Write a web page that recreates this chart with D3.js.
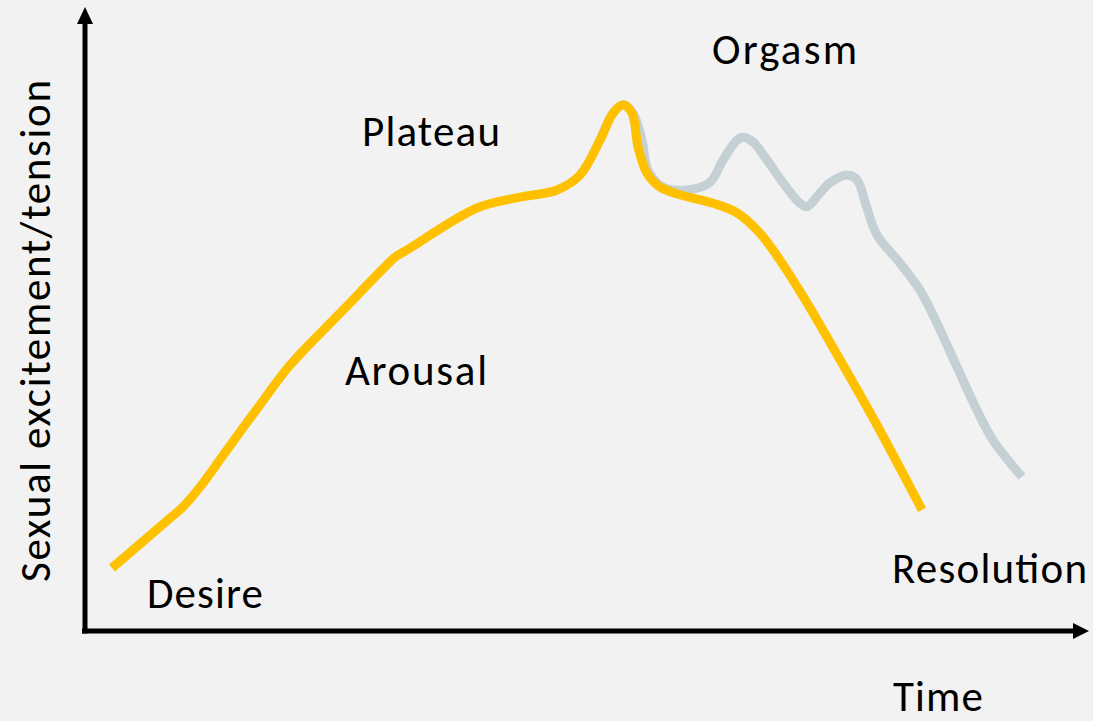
<!DOCTYPE html>
<html>
<head>
<meta charset="utf-8">
<script src="https://cdn.jsdelivr.net/npm/d3@7"></script>
<style>
  html, body { margin: 0; padding: 0; background: #f2f2f2; }
  svg { display: block; }
</style>
</head>
<body>
<svg id="chart" width="1093" height="721"></svg>
<script>
// ---- Data (time in arbitrary units 0-100, excitement 0-100) ----
const yellowTime = [2.7, 8.5, 9.8, 11.5, 14.2, 17.5, 20.5, 25.7, 30.0, 31.0, 32.2, 39.2, 43.5, 47.2, 49.5, 51.5, 52.8, 53.8, 54.7, 55.3, 56.2, 57.5, 59.5, 62.8, 65.2, 67.5, 69.5, 72.2, 75.5, 79.3, 82.5, 83.7];
const yellowLevel = [10.5, 18.8, 20.7, 24.0, 30.2, 37.7, 44.3, 53.3, 60.7, 62.3, 63.5, 70.5, 72.3, 73.5, 76.0, 81.8, 86.3, 87.7, 86.3, 80.7, 76.3, 74.0, 72.7, 71.3, 69.7, 66.3, 61.8, 54.7, 45.2, 34.0, 24.0, 20.2];

const grayTime = [51.5, 52.8, 53.8, 54.8, 55.7, 56.3, 57.8, 60.2, 62.5, 63.8, 65.2, 65.8, 66.8, 68.2, 69.8, 71.5, 72.2, 73.5, 74.5, 76.2, 77.2, 78.1, 79.2, 81.5, 83.5, 85.2, 87.2, 89.2, 90.8, 93.7];
const grayLevel = [81.8, 86.3, 87.7, 86.3, 81.8, 76.8, 74.0, 73.5, 74.8, 78.5, 81.8, 82.3, 81.5, 78.5, 74.7, 71.3, 70.7, 73.0, 74.7, 76.0, 75.2, 71.0, 66.0, 61.3, 56.8, 51.3, 44.0, 36.8, 31.8, 25.7];

const phaseLabels = ["Desire", "Arousal", "Plateau", "Orgasm", "Resolution"];
const xAxisTitle = "Time";
const yAxisTitle = "Sexual excitement/tension";

// ---- Layout ----
const svg = d3.select("#chart");
const W = 1093, H = 721;
const x = d3.scaleLinear().domain([0, 100]).range([85, 1085]);
const y = d3.scaleLinear().domain([0, 100]).range([631, 31]);

svg.append("rect").attr("width", W).attr("height", H).attr("fill", "#f2f2f2");

const line = d3.line()
  .x(d => x(d[0]))
  .y(d => y(d[1]))
  .curve(d3.curveCatmullRom.alpha(0.5));

const grayPts = grayTime.map((t, i) => [t, grayLevel[i]]);
const yellowPts = yellowTime.map((t, i) => [t, yellowLevel[i]]);

svg.append("path")
  .attr("d", line(grayPts))
  .attr("fill", "none")
  .attr("stroke", "#c5d0d4")
  .attr("stroke-width", 9)
  .attr("stroke-linejoin", "round");

svg.append("path")
  .attr("d", line(yellowPts))
  .attr("fill", "none")
  .attr("stroke", "#ffc000")
  .attr("stroke-width", 9)
  .attr("stroke-linejoin", "round");

// ---- Axes (arrows) ----
const x0 = x(0), y0 = y(0);
svg.append("line")
  .attr("x1", x0).attr("y1", y0 + 2.5)
  .attr("x2", x0).attr("y2", 22)
  .attr("stroke", "#000").attr("stroke-width", 5);
svg.append("path")
  .attr("d", `M${x0},7 L${x0 - 8},24 L${x0 + 8},24 Z`)
  .attr("fill", "#000");

svg.append("line")
  .attr("x1", x0 - 3).attr("y1", y0)
  .attr("x2", 1075).attr("y2", y0)
  .attr("stroke", "#000").attr("stroke-width", 5);
svg.append("path")
  .attr("d", `M1089,${y0} L1073,${y0 - 8} L1073,${y0 + 8} Z`)
  .attr("fill", "#000");

// ---- Labels ----
const font = "Carlito, Calibri, Lato, 'Open Sans', sans-serif";
const labelAnchors = [[6.2, 3.8], [26.0, 41.0], [27.7, 80.8], [62.7, 94.5], [80.7, 8.0]];
const labelWidths = [116, 142, 138, 145, 195];
svg.selectAll("text.phase")
  .data(phaseLabels)
  .enter().append("text")
  .attr("class", "phase")
  .attr("x", (d, i) => x(labelAnchors[i][0]))
  .attr("y", (d, i) => y(labelAnchors[i][1]))
  .attr("font-family", font)
  .attr("font-size", 43)
  .attr("textLength", (d, i) => labelWidths[i])
  .attr("lengthAdjust", "spacing")
  .attr("fill", "#000")
  .text(d => d);

svg.append("text")
  .attr("x", 893).attr("y", 711)
  .attr("font-family", font)
  .attr("font-size", 43)
  .attr("textLength", 90)
  .attr("lengthAdjust", "spacing")
  .text(xAxisTitle);

svg.append("text")
  .attr("transform", "translate(50,331) rotate(-90)")
  .attr("text-anchor", "middle")
  .attr("font-family", font)
  .attr("font-size", 43)
  .attr("textLength", 502)
  .attr("lengthAdjust", "spacing")
  .text(yAxisTitle);
</script>
</body>
</html>
